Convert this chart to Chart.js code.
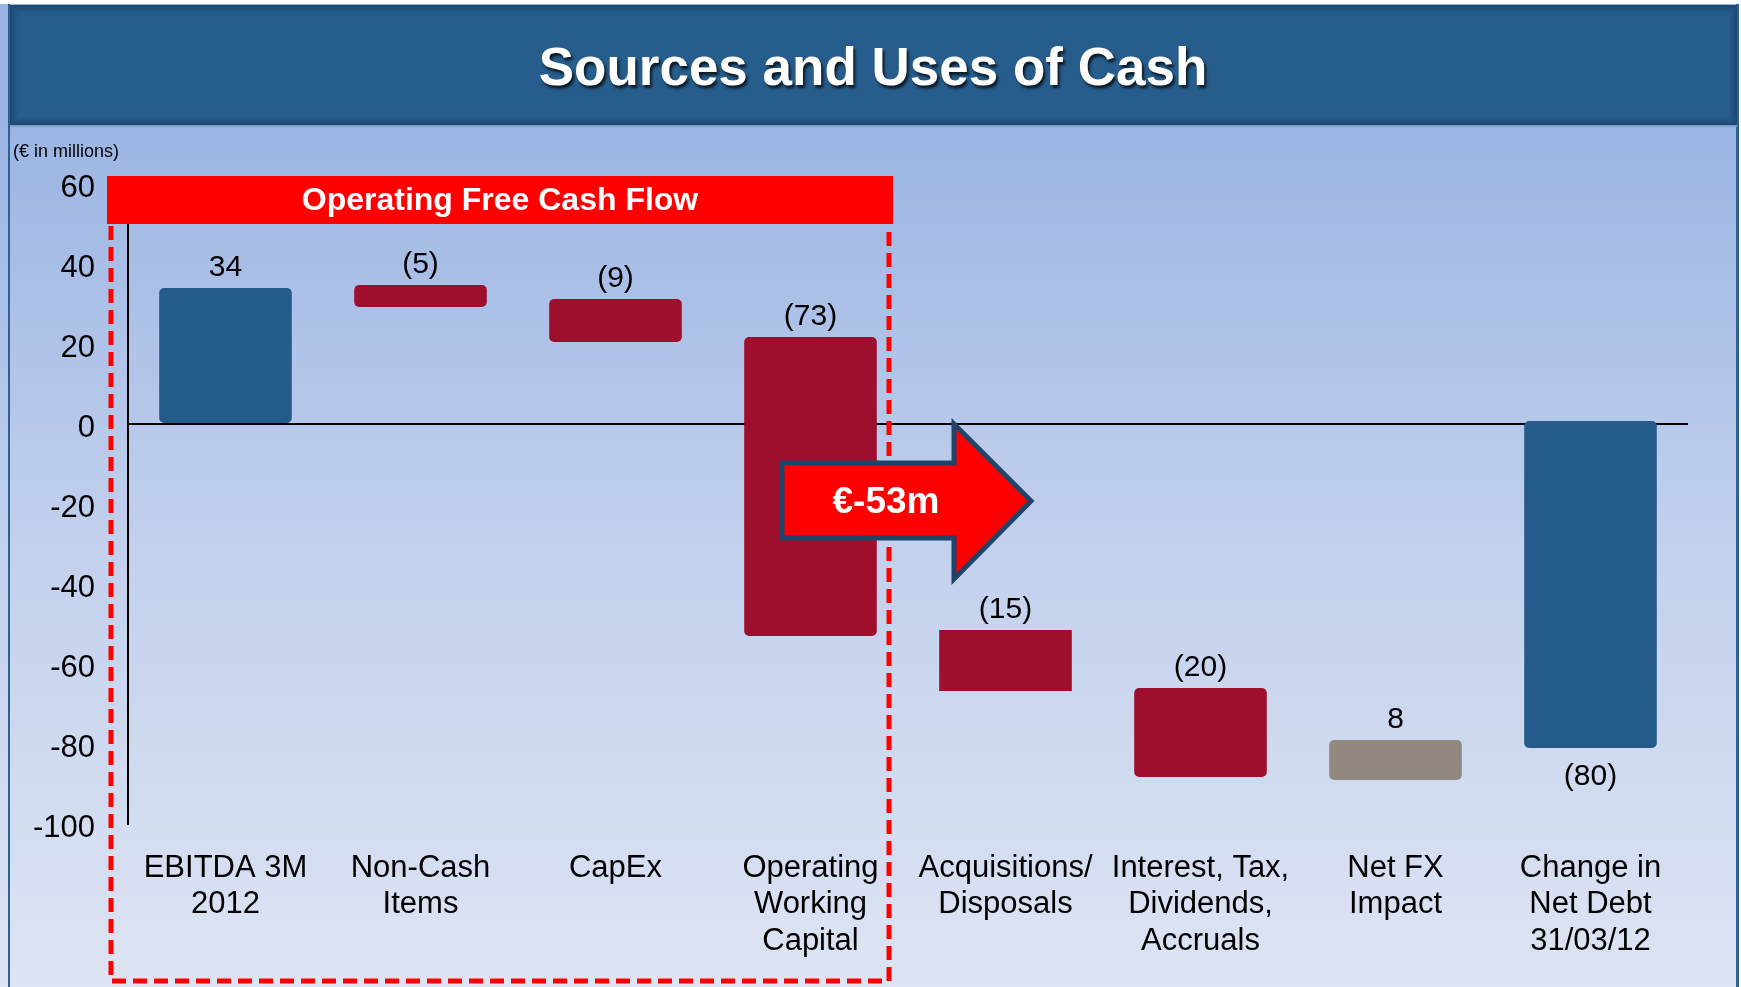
<!DOCTYPE html>
<html>
<head>
<meta charset="utf-8">
<script src="https://cdn.jsdelivr.net/npm/chart.js@4.4.1/dist/chart.umd.min.js"></script>
<style>
  html, body { margin: 0; padding: 0; background: #ffffff; }
  #c { display: block; }
</style>
</head>
<body>
<canvas id="c" width="1741" height="987"></canvas>
<script>
// ---- Data ----
const categories = [
  ["EBITDA 3M", "2012"],
  ["Non-Cash", "Items"],
  ["CapEx"],
  ["Operating", "Working", "Capital"],
  ["Acquisitions/", "Disposals"],
  ["Interest, Tax,", "Dividends,", "Accruals"],
  ["Net FX", "Impact"],
  ["Change in", "Net Debt", "31/03/12"]
];
const barStart = [0, 29.25, 20.5, -53, -66.75, -88.25, -89, -81];
const barEnd   = [34, 34.75, 31.25, 21.75, -51.5, -66, -79, 0.75];
const valueLabels = ["34", "(5)", "(9)", "(73)", "(15)", "(20)", "8", "(80)"];
const yTicks = [60, 40, 20, 0, -20, -40, -60, -80, -100];

const titleText = "Sources and Uses of Cash";
const unitText = "(\u20AC in millions)";
const bannerText = "Operating Free Cash Flow";
const arrowText = "\u20AC-53m";

// ---- Styles ----
const BLUE = "#245B8A";
const RED = "#9E0F2E";
const GREY = "#918880";
const barColors = [BLUE, RED, RED, RED, RED, RED, GREY, BLUE];
const labelBelow = [false, false, false, false, false, false, false, true];
const FONT = "'Liberation Sans', Arial, Helvetica, sans-serif";

const floating = barStart.map((s, i) => [s, barEnd[i]]);

const backgroundPlugin = {
  id: "bg",
  beforeDraw(chart) {
    const ctx = chart.ctx;
    const W = chart.width, H = chart.height;
    ctx.save();
    const g = ctx.createLinearGradient(0, 125, 0, H);
    g.addColorStop(0, "#9BB5E3");
    g.addColorStop(0.5, "#C3D1ED");
    g.addColorStop(1, "#DDE4F3");
    ctx.fillStyle = g;
    ctx.fillRect(0, 0, W, H);
    ctx.fillStyle = "#ffffff";
    ctx.fillRect(1739, 0, W - 1739, H);
    ctx.fillRect(0, 0, W, 4);
    ctx.fillStyle = "#2E6193";
    ctx.fillRect(8, 4, 2, H);
    ctx.fillRect(1736, 4, 3, H);
    // title banner
    ctx.fillStyle = "#265D8C";
    ctx.fillRect(10, 5, 1727, 120);
    for (let k = 0; k < 8; k++) {
      ctx.strokeStyle = "rgba(10,30,55," + (0.32 - k * 0.04) + ")";
      ctx.lineWidth = 1;
      ctx.strokeRect(10.5 + k, 5.5 + k, 1726 - 2 * k, 119 - 2 * k);
    }
    ctx.fillStyle = "#7F9FCB";
    ctx.fillRect(10, 125, 1727, 2);
    ctx.font = "bold 53px " + FONT;
    ctx.textAlign = "center";
    ctx.textBaseline = "middle";
    ctx.shadowColor = "rgba(0,0,0,0.75)";
    ctx.shadowOffsetX = 2;
    ctx.shadowOffsetY = 3;
    ctx.shadowBlur = 3;
    ctx.fillStyle = "#ffffff";
    ctx.fillText(titleText, 873, 70);
    ctx.shadowColor = "transparent";
    ctx.font = "18px " + FONT;
    ctx.textAlign = "left";
    ctx.fillStyle = "#000000";
    ctx.fillText(unitText, 13, 152);
    ctx.restore();
  }
};

const valueLabelPlugin = {
  id: "valueLabels",
  afterDatasetsDraw(chart) {
    const ctx = chart.ctx;
    const meta = chart.getDatasetMeta(0);
    ctx.save();
    ctx.font = "30px " + FONT;
    ctx.fillStyle = "#000000";
    ctx.textAlign = "center";
    ctx.textBaseline = "middle";
    meta.data.forEach((el, i) => {
      const top = Math.min(el.y, el.base);
      const bottom = Math.max(el.y, el.base);
      const y = labelBelow[i] ? bottom + 29 : top - 20;
      ctx.fillText(valueLabels[i], el.x, y);
    });
    ctx.restore();
  }
};

const overlayPlugin = {
  id: "overlay",
  afterDraw(chart) {
    const ctx = chart.ctx;
    ctx.save();
    ctx.strokeStyle = "#FF0000";
    ctx.lineWidth = 5;
    ctx.setLineDash([14, 7]);
    ctx.beginPath();
    ctx.moveTo(111, 226);
    ctx.lineTo(111, 981);
    ctx.lineTo(889, 981);
    ctx.lineTo(889, 226);
    ctx.stroke();
    ctx.setLineDash([]);
    ctx.fillStyle = "#FF0000";
    ctx.fillRect(107, 176, 786, 48);
    ctx.font = "bold 32px " + FONT;
    ctx.fillStyle = "#ffffff";
    ctx.textAlign = "center";
    ctx.textBaseline = "middle";
    ctx.fillText(bannerText, 500, 201);
    ctx.beginPath();
    ctx.moveTo(782, 463);
    ctx.lineTo(954, 463);
    ctx.lineTo(954, 424);
    ctx.lineTo(1031, 501);
    ctx.lineTo(954, 579);
    ctx.lineTo(954, 538);
    ctx.lineTo(782, 538);
    ctx.closePath();
    ctx.fillStyle = "#FF0000";
    ctx.fill();
    ctx.lineWidth = 5;
    ctx.lineJoin = "miter";
    ctx.strokeStyle = "#1F4468";
    ctx.stroke();
    ctx.font = "bold 37px " + FONT;
    ctx.fillStyle = "#ffffff";
    ctx.fillText(arrowText, 886, 503);
    ctx.restore();
  }
};

new Chart(document.getElementById("c"), {
  type: "bar",
  data: {
    labels: categories,
    datasets: [{
      data: floating,
      backgroundColor: barColors,
      borderWidth: 0,
      borderSkipped: false,
      borderRadius: (c) => (c.dataIndex === 4 ? 0 : 5),
      barPercentage: 0.68,
      categoryPercentage: 1.0
    }]
  },
  options: {
    responsive: false,
    devicePixelRatio: 1,
    animation: false,
    layout: { padding: { top: 184, right: 53, bottom: 0, left: 0 } },
    plugins: {
      legend: { display: false },
      tooltip: { enabled: false },
      title: { display: false }
    },
    scales: {
      x: {
        grid: { display: false },
        border: { display: false },
        afterFit(scale) { scale.height = 163; },
        ticks: {
          color: "#000000",
          padding: 18,
          autoSkip: false,
          maxRotation: 0,
          font: { family: FONT, size: 31, lineHeight: 1.18 }
        }
      },
      y: {
        min: -100,
        max: 60,
        afterFit(scale) { scale.width = 128; },
        afterBuildTicks(scale) { scale.ticks = yTicks.map(v => ({ value: v })); },
        grid: {
          drawTicks: false,
          lineWidth: 2,
          color: (c) => (c.tick && c.tick.value === 0 ? "#000000" : "rgba(0,0,0,0)")
        },
        border: { display: true, color: "#000000", width: 2 },
        ticks: {
          color: "#000000",
          padding: 33,
          labelOffset: 4,
          font: { family: FONT, size: 31 }
        }
      }
    }
  },
  plugins: [backgroundPlugin, valueLabelPlugin, overlayPlugin]
});
</script>
</body>
</html>
